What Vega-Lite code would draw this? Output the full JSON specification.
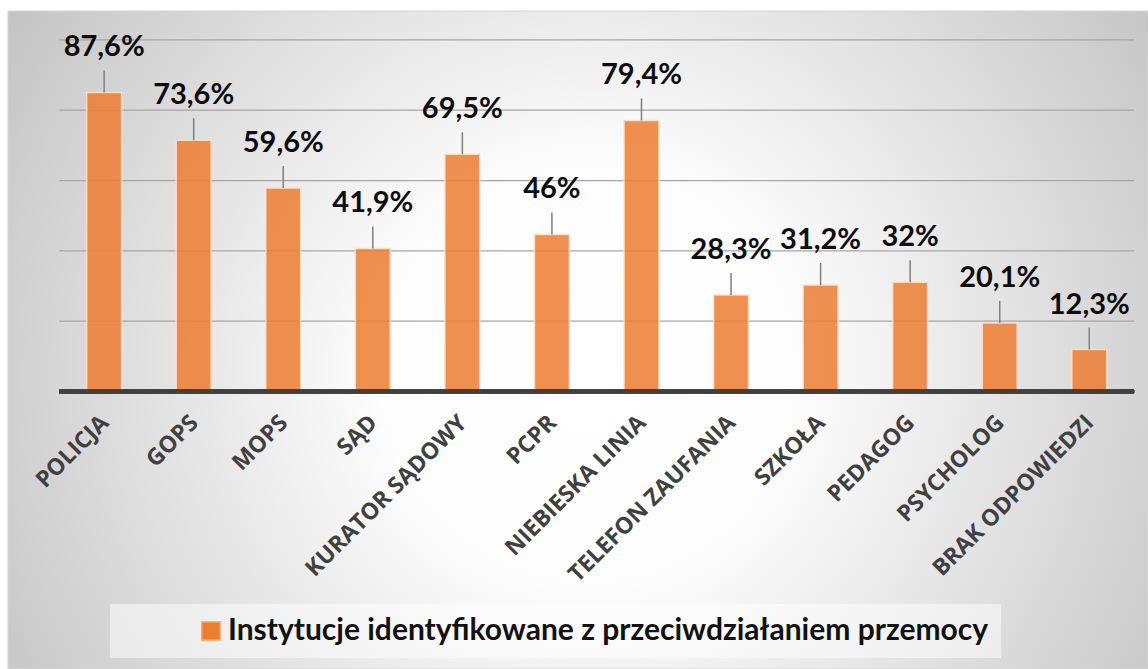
{
  "$schema": "https://vega.github.io/schema/vega-lite/v6.json",
  "width": 1140,
  "height": 658,
  "autosize": {"type": "none"},
  "padding": {"left": 8, "top": 11, "right": 0, "bottom": 0},
  "background": "#ffffff",
  "config": {"view": {"stroke": null}},
  "data": {
    "values": [
      {"name": "POLICJA", "value": 87.6, "label": "87,6%"},
      {"name": "GOPS", "value": 73.6, "label": "73,6%"},
      {"name": "MOPS", "value": 59.6, "label": "59,6%"},
      {"name": "SĄD", "value": 41.9, "label": "41,9%"},
      {"name": "KURATOR SĄDOWY", "value": 69.5, "label": "69,5%"},
      {"name": "PCPR", "value": 46, "label": "46%"},
      {"name": "NIEBIESKA LINIA", "value": 79.4, "label": "79,4%"},
      {"name": "TELEFON ZAUFANIA", "value": 28.3, "label": "28,3%"},
      {"name": "SZKOŁA", "value": 31.2, "label": "31,2%"},
      {"name": "PEDAGOG", "value": 32, "label": "32%"},
      {"name": "PSYCHOLOG", "value": 20.1, "label": "20,1%"},
      {"name": "BRAK ODPOWIEDZI", "value": 12.3, "label": "12,3%"}
    ]
  },
  "layer": [
    {
      "data": {"values": [{}]},
      "mark": {
        "type": "rect",
        "fill": {
          "gradient": "radial",
          "x1": 0.51, "y1": 0.53, "r1": 0,
          "x2": 0.51, "y2": 0.53, "r2": 0.6,
          "stops": [
            {"offset": 0, "color": "#ffffff"},
            {"offset": 0.3, "color": "#fdfdfd"},
            {"offset": 1, "color": "#c4c4c4"}
          ]
        },
        "stroke": "#d4d4d4",
        "strokeWidth": 1
      },
      "encoding": {}
    },
    {
      "data": {"values": [{"g": 20.6}, {"g": 41.2}, {"g": 61.8}, {"g": 82.4}, {"g": 103.0}]},
      "mark": {"type": "rule", "color": "#a6a6a6", "strokeWidth": 1.25, "xOffset": -44.8, "x2Offset": 44.8},
      "encoding": {
        "y": {"field": "g", "type": "quantitative", "axis": null},
        "x": {"datum": "POLICJA", "type": "nominal", "axis": null},
        "x2": {"datum": "BRAK ODPOWIEDZI"}
      }
    },
    {
      "mark": {"type": "bar", "fillOpacity": 0.85, "stroke": "#fbe0cc", "strokeWidth": 1.5, "strokeOpacity": 0.9},
      "encoding": {
        "x": {
          "field": "name",
          "type": "nominal",
          "sort": null,
          "axis": null,
          "scale": {
            "domain": ["POLICJA", "GOPS", "MOPS", "SĄD", "KURATOR SĄDOWY", "PCPR", "NIEBIESKA LINIA", "TELEFON ZAUFANIA", "SZKOŁA", "PEDAGOG", "PSYCHOLOG", "BRAK ODPOWIEDZI"],
            "paddingInner": 0.61,
            "paddingOuter": 0.6695,
            "align": 0.656
          }
        },
        "y": {
          "field": "value",
          "type": "quantitative",
          "axis": null,
          "scale": {"domain": [-81.28, 111.45], "nice": false, "zero": false}
        },
        "color": {
          "datum": "Instytucje identyfikowane z przeciwdziałaniem przemocy",
          "type": "nominal",
          "scale": {"range": ["#ED7D31"]},
          "legend": {
            "orient": "none",
            "legendX": 102,
            "legendY": 593,
            "title": null,
            "direction": "horizontal",
            "padding": 12,
            "fillColor": "rgba(255,255,255,0.5)",
            "symbolType": "square",
            "symbolSize": 350,
            "symbolOffset": 74,
            "labelOffset": 2,
            "labelFont": "Lato",
            "labelFontSize": 30,
            "labelFontWeight": "bold",
            "labelColor": "#111111",
            "labelLimit": 0,
            "symbolStrokeColor": "#F4B183",
            "symbolStrokeWidth": 1.5
          }
        }
      }
    },
    {
      "mark": {"type": "rule", "color": "#404040", "strokeWidth": 3.5, "xOffset": -44.8, "x2Offset": 44.8},
      "encoding": {
        "y": {"datum": 0, "type": "quantitative", "axis": null},
        "x": {"datum": "POLICJA", "type": "nominal", "axis": null},
        "x2": {"datum": "BRAK ODPOWIEDZI"}
      }
    },
    {
      "mark": {"type": "rule", "color": "#7f7f7f", "strokeWidth": 1.5, "y2Offset": -22},
      "encoding": {
        "x": {"field": "name", "type": "nominal", "axis": null},
        "y": {"field": "value", "type": "quantitative", "axis": null},
        "y2": {"field": "value"}
      }
    },
    {
      "mark": {"type": "text", "font": "Lato", "fontSize": 29, "fontWeight": "bold", "color": "#0d0d0d", "baseline": "alphabetic", "yOffset": -36},
      "encoding": {
        "x": {"field": "name", "type": "nominal", "axis": null},
        "y": {"field": "value", "type": "quantitative", "axis": null},
        "text": {"field": "label"}
      }
    },
    {
      "mark": {"type": "text", "angle": 315, "align": "right", "baseline": "top", "font": "Open Sans", "fontSize": 23, "fontWeight": "bold", "color": "#404040", "xOffset": -7, "yOffset": 20},
      "encoding": {
        "x": {"field": "name", "type": "nominal", "axis": null},
        "y": {"datum": 0, "type": "quantitative", "axis": null},
        "text": {"field": "name"}
      }
    }
  ]
}
